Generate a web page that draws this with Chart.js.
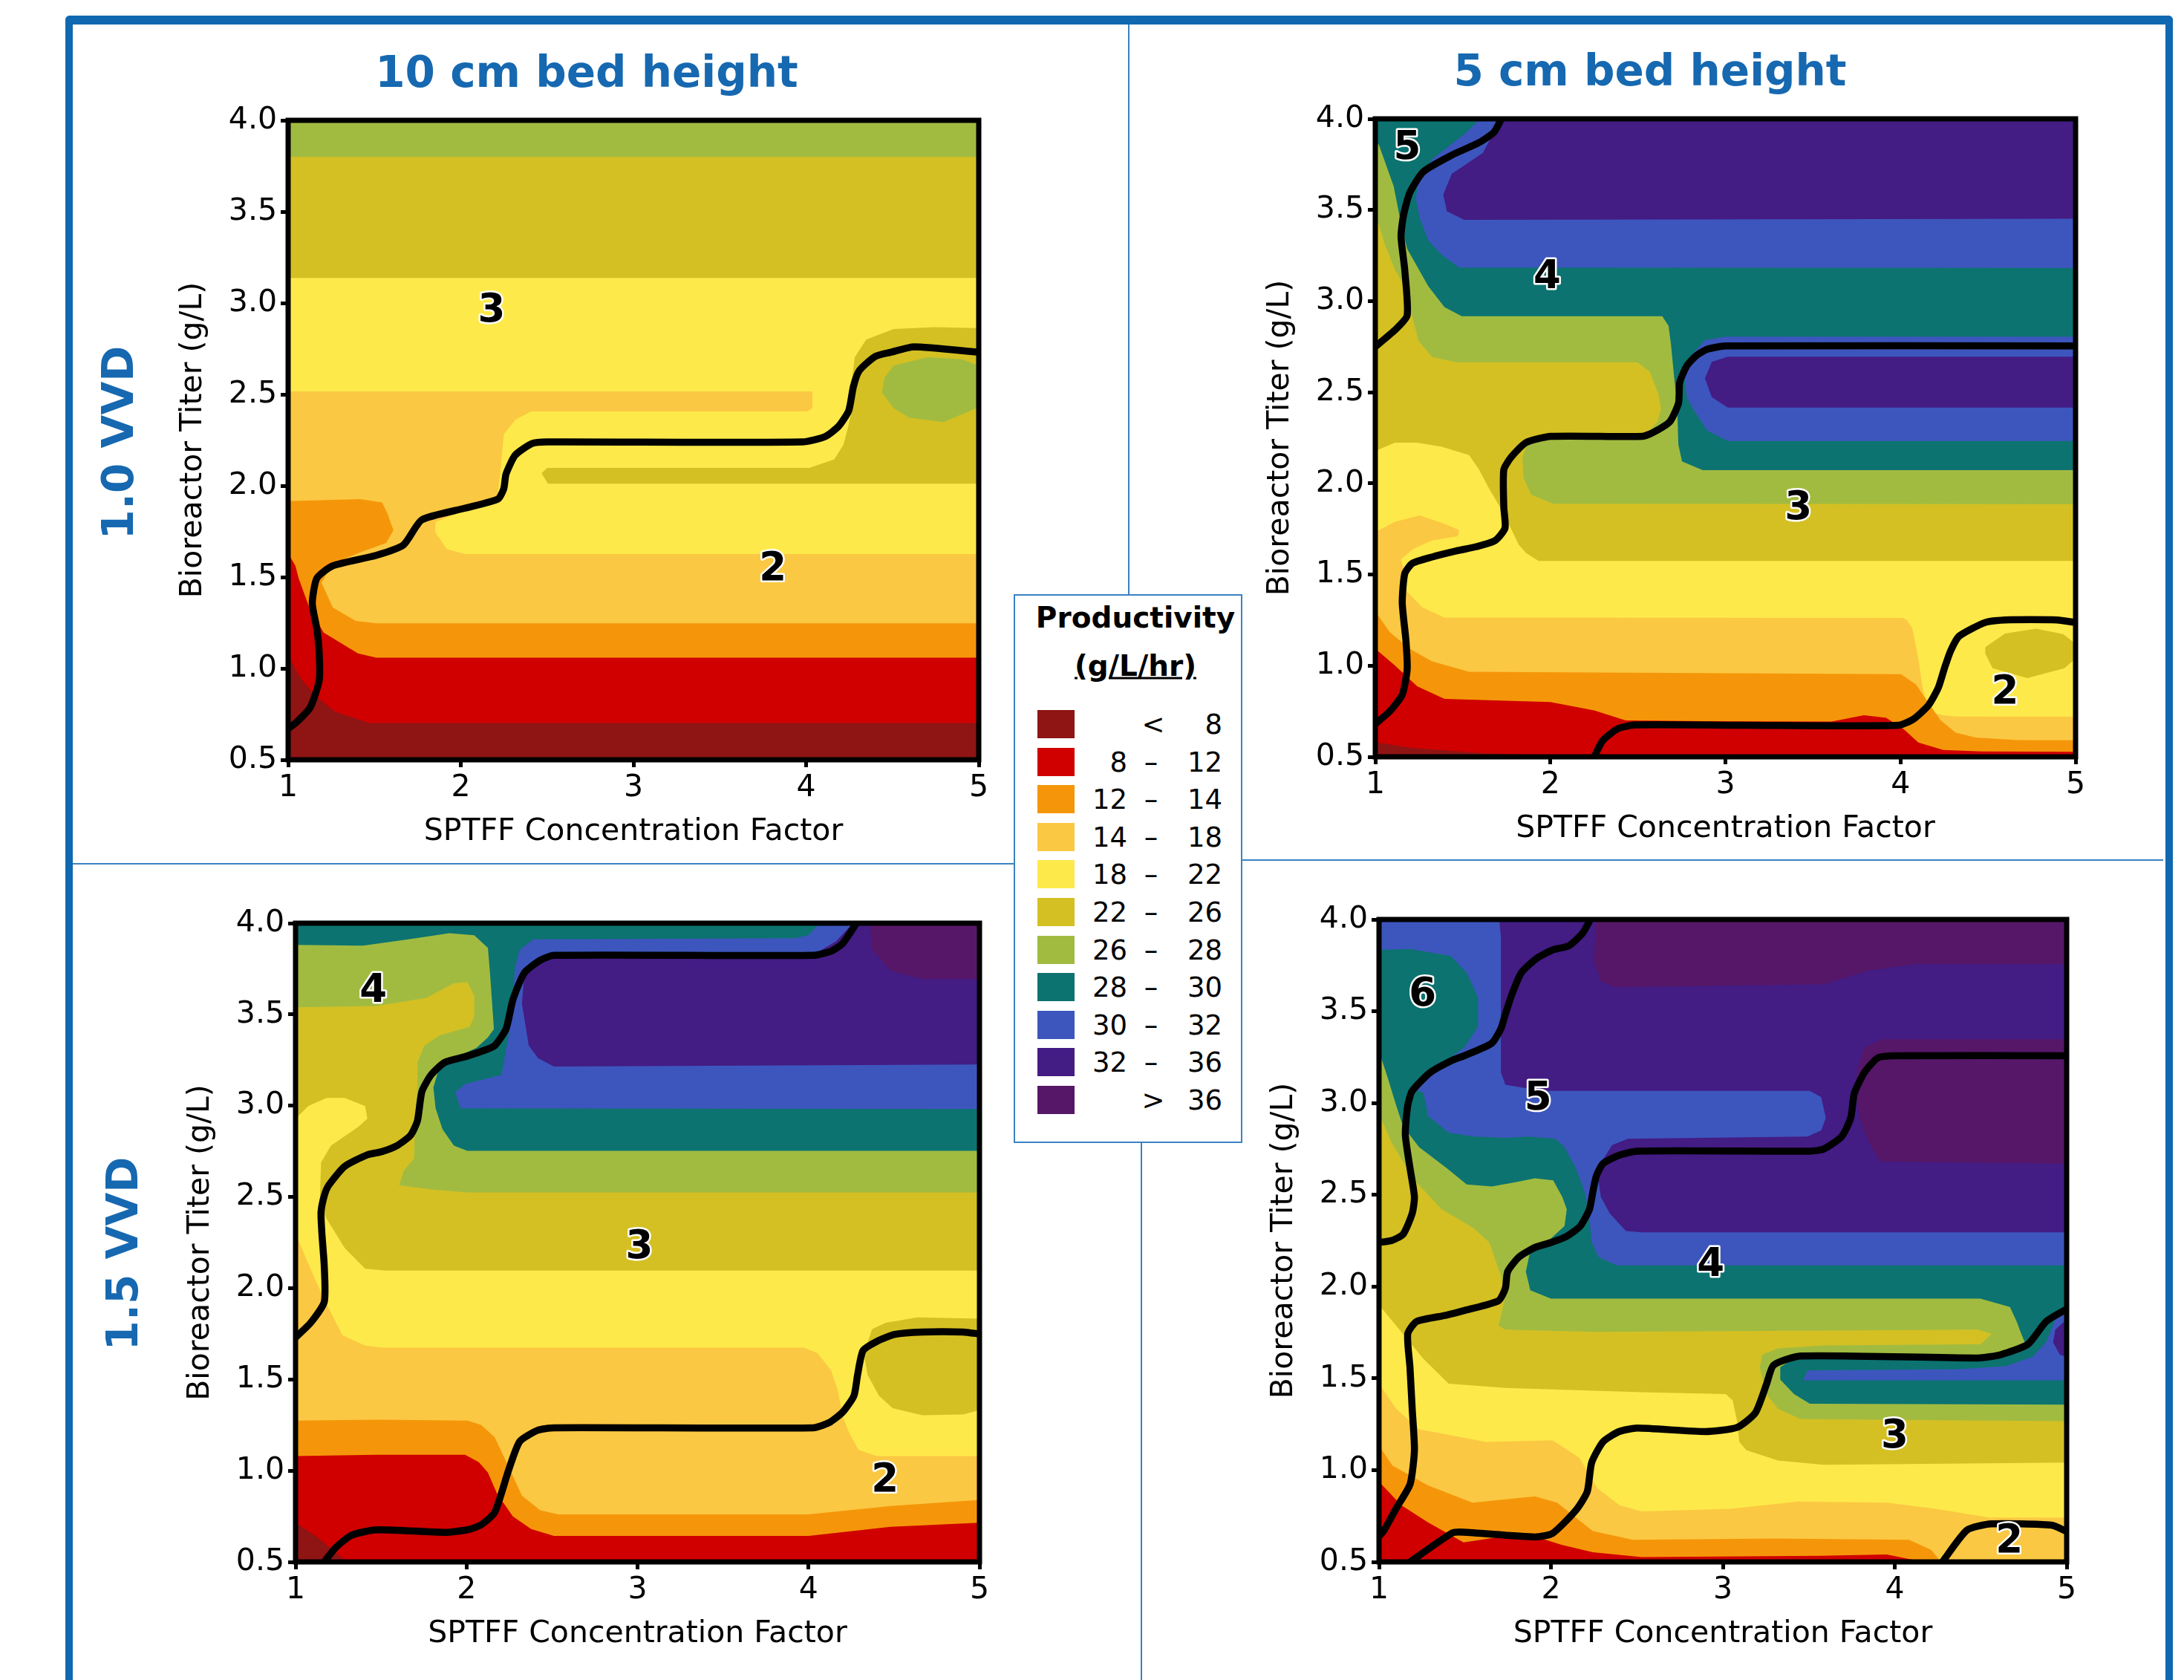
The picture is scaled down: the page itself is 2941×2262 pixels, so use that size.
<!DOCTYPE html>
<html>
<head>
<meta charset="utf-8">
<script src="https://cdn.jsdelivr.net/npm/chart.js@4.4.0/dist/chart.umd.min.js"></script>
<style>
  html, body { margin: 0; padding: 0; background: #fff; }
  #page { position: relative; width: 2941px; height: 2262px; overflow: hidden; font-family: "DejaVu Sans", Verdana, sans-serif; }
  .frame { position: absolute; left: 88px; top: 21px; width: 2818px; height: 2400px; border: solid #1068b0; border-width: 12px 10px 0 10px; border-radius: 6px 6px 0 0; }
  .rule { position: absolute; background: #3a82c3; }
  .panel { position: absolute; z-index: 1; }
  .txt { position: absolute; white-space: nowrap; line-height: 1; }
  .head { color: #1668b0; font-weight: bold; font-size: 58px; }
  .legend-box { position: absolute; left: 1365px; top: 800px; width: 308px; height: 739px; box-sizing: border-box; border: 2px solid #3a82c3; background: #fff; z-index: 2; }
  .leg { z-index: 3; color: #000; font-size: 37px; }
  .leg-title { z-index: 3; color: #000; font-size: 39px; font-weight: bold; }
  .swatch { position: absolute; width: 50px; height: 38px; z-index: 3; }
</style>
</head>
<body>
<div id="page">
  <div class="frame"></div>
  <div class="rule" style="left:1519px; top:33px; width:2px; height:767px;"></div>
  <div class="rule" style="left:1536px; top:1539px; width:2px; height:723px;"></div>
  <div class="rule" style="left:98px; top:1162px; width:1267px; height:2px;"></div>
  <div class="rule" style="left:1673px; top:1157px; width:1240px; height:2px;"></div>
  <div class="legend-box"></div>
  <canvas id="tl" class="panel"></canvas>
  <canvas id="tr" class="panel"></canvas>
  <canvas id="bl" class="panel"></canvas>
  <canvas id="br" class="panel"></canvas>
</div>
<script>
// productivity bands, lowest first
const BAND_COLORS = ['#8f1414', '#d00000', '#f5960a', '#fbc843', '#fee94a', '#d4c023', '#a1bb41', '#0c7370', '#3d56bd', '#431c84', '#561768'];
const BAND_LOW = ['', '8', '12', '14', '18', '22', '26', '28', '30', '32', ''];
const BAND_HIGH = ['8', '12', '14', '18', '22', '26', '28', '30', '32', '36', '36'];

const X_TICKS = [1, 2, 3, 4, 5];
const Y_TICKS = [0.5, 1.0, 1.5, 2.0, 2.5, 3.0, 3.5, 4.0];

// filled regions: [band, outline in (concentration factor, titer)], painted in order
const TL_LAYERS = [
  [6, [[1, 0.5], [5, 0.5], [5, 4], [1, 4]]],
  [5, [[1, 0.5], [5, 0.5], [5, 3.80], [1, 3.80]]],
  [4, [[1, 0.5], [5, 0.5], [5, 3.137], [1, 3.137]]],
  [5, [[5, 2.863], [4.744, 2.868], [4.506, 2.858], [4.348, 2.80], [4.282, 2.703], [4.263, 2.566], [4.274, 2.452], [4.242, 2.315], [4.216, 2.224], [4.163, 2.144], [4.018, 2.098], [2.50, 2.098], [2.468, 2.068], [2.505, 2.011], [5, 2.011]]],
  [6, [[4.453, 2.589], [4.506, 2.658], [4.704, 2.703], [4.902, 2.692], [5, 2.658], [5, 2.43], [4.797, 2.349], [4.599, 2.372], [4.506, 2.425], [4.440, 2.509]]],
  [3, [[1, 2.516], [4.036, 2.516], [4.036, 2.425], [4.005, 2.406], [2.407, 2.406], [2.315, 2.361], [2.249, 2.281], [2.228, 2.064], [2.209, 1.916], [2.024, 1.870], [1.853, 1.801], [1.853, 1.744], [1.919, 1.653], [2.024, 1.626], [5, 1.626], [5, 0.5], [1, 0.5]]],
  [2, [[1, 1.916], [1.417, 1.927], [1.544, 1.909], [1.576, 1.847], [1.610, 1.756], [1.568, 1.687], [1.417, 1.635], [1.259, 1.573], [1.193, 1.470], [1.259, 1.333], [1.391, 1.260], [1.510, 1.247], [5, 1.247], [5, 0.5], [1, 0.5]]],
  [1, [[1, 1.630], [1.042, 1.562], [1.061, 1.493], [1.127, 1.322], [1.206, 1.196], [1.404, 1.082], [1.510, 1.059], [5, 1.059], [5, 0.5], [1, 0.5]]],
  [0, [[1, 1.071], [1.074, 0.945], [1.153, 0.854], [1.272, 0.763], [1.470, 0.701], [5, 0.701], [5, 0.5], [1, 0.5]]]
];
const TL_CONTOURS = [
  [[1, 0.671], [1.048, 0.705], [1.127, 0.785], [1.180, 0.934], [1.180, 1.082], [1.166, 1.219], [1.140, 1.356], [1.166, 1.493], [1.259, 1.562], [1.510, 1.619], [1.668, 1.676], [1.774, 1.813], [2.024, 1.877], [2.215, 1.927], [2.249, 1.984], [2.262, 2.064], [2.315, 2.167], [2.413, 2.231], [2.50, 2.240], [3.978, 2.240], [4.110, 2.269], [4.189, 2.326], [4.247, 2.411], [4.274, 2.543], [4.308, 2.630], [4.401, 2.708], [4.493, 2.731], [4.625, 2.760], [5, 2.731]]
];
const TL_LABELS = [['3', 2.178, 2.954], ['2', 3.807, 1.539]];

const TR_LAYERS = [
  [9, [[1, 0.5], [5, 0.5], [5, 4], [1, 4]]],
  [8, [[1.741, 4], [1.678, 3.927], [1.614, 3.813], [1.437, 3.698], [1.388, 3.584], [1.409, 3.493], [1.508, 3.446], [5, 3.452], [5, 0.5], [1, 0.5], [1, 4]]],
  [7, [[1, 4], [1.600, 4], [1.508, 3.915], [1.324, 3.778], [1.246, 3.664], [1.232, 3.561], [1.253, 3.458], [1.303, 3.333], [1.380, 3.253], [1.479, 3.184], [5, 3.182], [5, 0.5], [1, 0.5]]],
  [6, [[1, 3.87], [1.020, 3.858], [1.105, 3.630], [1.147, 3.424], [1.182, 3.287], [1.303, 3.081], [1.395, 2.967], [1.494, 2.917], [2.639, 2.917], [2.675, 2.864], [2.689, 2.761], [2.710, 2.555], [2.724, 2.441], [2.731, 2.213], [2.752, 2.121], [2.870, 2.073], [5, 2.073], [5, 0.5], [1, 0.5]]],
  [5, [[1, 3.48], [1.055, 3.310], [1.112, 3.173], [1.154, 3.104], [1.204, 2.944], [1.246, 2.784], [1.324, 2.693], [1.465, 2.665], [2.498, 2.665], [2.568, 2.613], [2.618, 2.487], [2.632, 2.407], [2.611, 2.338], [2.568, 2.293], [2.526, 2.263], [1.989, 2.263], [1.876, 2.235], [1.840, 2.144], [1.847, 2.030], [1.890, 1.938], [2.017, 1.888], [5, 1.886], [5, 0.5], [1, 0.5]]],
  [8, [[5, 2.805], [3.0, 2.805], [2.883, 2.786], [2.805, 2.702], [2.766, 2.587], [2.779, 2.473], [2.818, 2.405], [2.896, 2.290], [3.013, 2.233], [5, 2.233]]],
  [9, [[5, 2.695], [3.013, 2.695], [2.922, 2.667], [2.883, 2.576], [2.922, 2.473], [3.013, 2.416], [5, 2.416]]],
  [4, [[1, 2.178], [1.112, 2.224], [1.239, 2.224], [1.380, 2.201], [1.536, 2.155], [1.593, 2.075], [1.649, 1.973], [1.706, 1.881], [1.762, 1.778], [1.819, 1.664], [1.861, 1.618], [1.932, 1.575], [5, 1.575], [5, 0.5], [1, 0.5]]],
  [3, [[1, 1.733], [1.112, 1.790], [1.253, 1.824], [1.395, 1.778], [1.479, 1.744], [1.472, 1.710], [1.324, 1.687], [1.218, 1.641], [1.147, 1.584], [1.168, 1.504], [1.175, 1.413], [1.267, 1.321], [1.395, 1.264], [4.013, 1.262], [4.032, 1.253], [4.066, 1.210], [4.085, 1.121], [4.104, 1.026], [4.118, 0.931], [4.132, 0.850], [4.155, 0.796], [4.188, 0.741], [4.245, 0.728], [4.316, 0.721], [5, 0.72], [5, 0.5], [1, 0.5]]],
  [5, [[4.484, 1.101], [4.597, 1.176], [4.774, 1.203], [4.929, 1.173], [5, 1.12], [5, 1.04], [4.936, 0.986], [4.724, 0.932], [4.526, 0.986], [4.484, 1.067]]],
  [2, [[1, 1.298], [1.083, 1.184], [1.197, 1.093], [1.324, 1.024], [1.536, 0.967], [4.003, 0.953], [4.088, 0.897], [4.159, 0.796], [4.229, 0.701], [4.314, 0.633], [4.427, 0.606], [4.668, 0.592], [5, 0.591], [5, 0.5], [1, 0.5]]],
  [1, [[1, 1.093], [1.112, 1.001], [1.239, 0.887], [1.395, 0.818], [2.0, 0.80], [2.25, 0.755], [2.43, 0.70], [3.0, 0.695], [3.607, 0.694], [3.791, 0.728], [3.918, 0.714], [4.017, 0.653], [4.102, 0.578], [4.244, 0.538], [4.46, 0.53], [5, 0.528], [5, 0.5], [1, 0.5]]],
  [0, [[1, 0.58], [1.2, 0.55], [1.6, 0.52], [2.3, 0.5], [1, 0.5]]]
];
const TR_CONTOURS = [
  [[1.72, 4.0], [1.678, 3.927], [1.593, 3.870], [1.437, 3.801], [1.274, 3.710], [1.197, 3.595], [1.161, 3.470], [1.147, 3.355], [1.168, 3.173], [1.182, 2.921], [1.112, 2.841], [1, 2.750]],
  [[1, 0.681], [1.083, 0.750], [1.154, 0.841], [1.182, 0.978], [1.175, 1.138], [1.154, 1.344], [1.168, 1.504], [1.211, 1.561], [1.324, 1.596], [1.465, 1.630], [1.578, 1.653], [1.685, 1.687], [1.741, 1.755], [1.734, 1.870], [1.734, 2.075], [1.776, 2.144], [1.861, 2.224], [2.003, 2.258], [2.526, 2.258], [2.590, 2.281], [2.682, 2.338], [2.732, 2.441], [2.739, 2.555], [2.781, 2.647], [2.837, 2.704], [2.896, 2.736], [3.0, 2.754], [5, 2.754]],
  [[2.250, 0.5], [2.300, 0.590], [2.385, 0.654], [2.484, 0.675], [3.112, 0.673], [3.989, 0.673], [4.074, 0.707], [4.159, 0.782], [4.215, 0.877], [4.251, 0.986], [4.286, 1.081], [4.335, 1.162], [4.484, 1.237], [4.597, 1.251], [4.894, 1.251], [5, 1.237]]
];
const TR_LABELS = [['5', 1.182, 3.835], ['4', 1.982, 3.127], ['3', 3.416, 1.861], ['2', 4.597, 0.850]];

const BL_LAYERS = [
  [9, [[1, 0.5], [5, 0.5], [5, 4], [1, 4]]],
  [10, [[4.359, 4], [4.372, 3.854], [4.479, 3.740], [4.665, 3.694], [5, 3.694], [5, 4]]],
  [8, [[4.26, 4.0], [4.160, 3.900], [4.027, 3.826], [2.511, 3.820], [2.404, 3.785], [2.338, 3.717], [2.324, 3.557], [2.364, 3.329], [2.418, 3.260], [2.511, 3.215], [5, 3.226], [5, 0.5], [1, 0.5], [1, 4]]],
  [7, [[1, 4], [4.066, 4], [4.0, 3.934], [3.92, 3.918], [2.391, 3.911], [2.311, 3.854], [2.285, 3.763], [2.271, 3.589], [2.257, 3.443], [2.231, 3.306], [2.205, 3.169], [2.059, 3.135], [1.992, 3.119], [1.934, 3.073], [1.965, 2.986], [5, 2.982], [5, 0.5], [1, 0.5]]],
  [6, [[1, 3.881], [1.394, 3.877], [1.660, 3.911], [1.899, 3.945], [2.045, 3.934], [2.125, 3.865], [2.138, 3.717], [2.16, 3.42], [2.125, 3.374], [2.059, 3.317], [1.952, 3.272], [1.846, 3.226], [1.806, 3.100], [1.819, 2.986], [1.859, 2.872], [1.926, 2.781], [2.005, 2.753], [5, 2.753], [5, 0.5], [1, 0.5]]],
  [5, [[1, 3.539], [1.473, 3.546], [1.766, 3.591], [1.926, 3.671], [2.005, 3.676], [2.045, 3.603], [2.045, 3.489], [2.019, 3.432], [1.846, 3.386], [1.753, 3.329], [1.713, 3.237], [1.713, 3.100], [1.699, 2.941], [1.694, 2.712], [1.633, 2.644], [1.606, 2.564], [1.793, 2.541], [2.005, 2.525], [5, 2.525], [5, 0.5], [1, 0.5]]],
  [4, [[1, 2.929], [1.074, 2.998], [1.181, 3.043], [1.287, 3.043], [1.407, 2.998], [1.420, 2.929], [1.367, 2.884], [1.207, 2.781], [1.149, 2.689], [1.141, 2.461], [1.181, 2.381], [1.287, 2.221], [1.407, 2.107], [1.527, 2.096], [5, 2.096], [5, 0.5], [1, 0.5]]],
  [3, [[1, 2.301], [1.061, 2.164], [1.114, 2.050], [1.181, 1.913], [1.274, 1.742], [1.407, 1.685], [1.513, 1.674], [3.973, 1.674], [4.053, 1.644], [4.133, 1.548], [4.173, 1.434], [4.199, 1.297], [4.239, 1.205], [4.293, 1.114], [4.399, 1.080], [5, 1.080], [5, 0.5], [1, 0.5]]],
  [5, [[4.372, 1.776], [4.452, 1.810], [4.638, 1.840], [5, 1.833], [5, 1.331], [4.904, 1.308], [4.665, 1.304], [4.492, 1.342], [4.412, 1.411], [4.346, 1.525], [4.324, 1.639]]],
  [2, [[1, 1.274], [1.473, 1.279], [2.005, 1.274], [2.085, 1.251], [2.165, 1.183], [2.245, 1.023], [2.324, 0.863], [2.431, 0.783], [2.537, 0.760], [4.0, 0.760], [4.479, 0.806], [5, 0.840], [5, 0.5], [1, 0.5]]],
  [1, [[1, 1.080], [1.473, 1.087], [1.992, 1.087], [2.072, 1.046], [2.125, 0.989], [2.178, 0.874], [2.271, 0.749], [2.378, 0.680], [2.511, 0.642], [4.0, 0.642], [4.479, 0.692], [5, 0.715], [5, 0.5], [1, 0.5]]],
  [0, [[1, 0.715], [1.128, 0.635], [1.287, 0.509], [1.3, 0.5], [1, 0.5]]]
];
const BL_CONTOURS = [
  [[1, 1.73], [1.088, 1.810], [1.168, 1.925], [1.168, 2.119], [1.154, 2.301], [1.149, 2.416], [1.168, 2.507], [1.194, 2.564], [1.287, 2.667], [1.420, 2.731], [1.500, 2.747], [1.593, 2.781], [1.673, 2.838], [1.713, 2.918], [1.739, 3.078], [1.793, 3.169], [1.872, 3.237], [2.005, 3.272], [2.112, 3.306], [2.165, 3.329], [2.231, 3.420], [2.271, 3.580], [2.338, 3.728], [2.431, 3.797], [2.511, 3.824], [4.027, 3.824], [4.133, 3.847], [4.199, 3.888], [4.266, 3.979], [4.28, 4.0]],
  [[1.168, 0.5], [1.234, 0.578], [1.327, 0.646], [1.473, 0.676], [1.872, 0.662], [2.005, 0.676], [2.085, 0.703], [2.165, 0.772], [2.245, 1.0], [2.311, 1.160], [2.418, 1.222], [2.511, 1.235], [4.027, 1.235], [4.120, 1.263], [4.199, 1.320], [4.266, 1.411], [4.287, 1.525], [4.319, 1.658], [4.399, 1.708], [4.505, 1.747], [4.665, 1.760], [4.904, 1.760], [5, 1.749]]
];
const BL_LABELS = [['4', 1.455, 3.626], ['3', 3.011, 2.221], ['2', 4.447, 0.943]];

const BR_LAYERS = [
  [9, [[1, 0.5], [5, 0.5], [5, 4], [1, 4]]],
  [10, [[2.264, 4], [2.250, 3.778], [2.290, 3.665], [2.369, 3.631], [3.586, 3.647], [3.850, 3.722], [4.114, 3.756], [5, 3.756], [5, 4]]],
  [10, [[3.784, 3.190], [3.824, 3.303], [3.929, 3.348], [5, 3.348], [5, 2.670], [3.916, 2.681], [3.850, 2.783], [3.797, 2.919], [3.771, 3.077]]],
  [8, [[1, 4], [1.70, 4], [1.709, 3.903], [1.709, 3.167], [1.735, 3.100], [1.946, 3.066], [3.506, 3.066], [3.572, 3.032], [3.599, 2.919], [3.572, 2.851], [3.493, 2.817], [2.449, 2.805], [2.356, 2.771], [2.303, 2.692], [2.277, 2.579], [2.290, 2.489], [2.343, 2.398], [2.436, 2.303], [2.528, 2.296], [5, 2.296], [5, 0.5], [1, 0.5]]],
  [7, [[1, 3.835], [1.034, 3.835], [1.180, 3.839], [1.418, 3.801], [1.510, 3.710], [1.576, 3.575], [1.576, 3.416], [1.497, 3.303], [1.431, 3.258], [1.286, 3.179], [1.206, 3.077], [1.259, 3.054], [1.286, 2.930], [1.405, 2.839], [1.550, 2.817], [1.735, 2.810], [1.867, 2.817], [2.026, 2.805], [2.079, 2.760], [2.145, 2.647], [2.198, 2.511], [2.224, 2.376], [2.237, 2.240], [2.277, 2.161], [2.383, 2.115], [5, 2.115], [5, 0.5], [1, 0.5]]],
  [6, [[1, 3.281], [1.048, 3.145], [1.100, 2.986], [1.140, 2.873], [1.233, 2.760], [1.392, 2.647], [1.510, 2.557], [1.656, 2.545], [1.788, 2.568], [1.907, 2.590], [2.013, 2.579], [2.066, 2.489], [2.092, 2.421], [2.079, 2.330], [2.0, 2.262], [1.880, 2.195], [1.854, 2.081], [1.880, 1.980], [2.0, 1.934], [4.498, 1.934], [4.670, 1.889], [4.709, 1.810], [4.736, 1.742], [4.762, 1.685], [4.617, 1.633], [4.484, 1.624], [3.453, 1.633], [3.334, 1.561], [3.334, 1.493], [3.414, 1.414], [3.506, 1.362], [5, 1.357], [5, 0.5], [1, 0.5]]],
  [5, [[1, 2.941], [1.074, 2.783], [1.206, 2.579], [1.365, 2.421], [1.550, 2.319], [1.642, 2.240], [1.709, 2.059], [1.735, 1.946], [1.695, 1.787], [1.735, 1.765], [2.264, 1.753], [4.484, 1.765], [4.564, 1.742], [4.498, 1.686], [3.586, 1.679], [3.321, 1.663], [3.228, 1.629], [3.215, 1.561], [3.25, 1.42], [3.321, 1.335], [3.453, 1.278], [5, 1.267], [5, 0.5], [1, 0.5]]],
  [8, [[3.467, 1.489], [3.493, 1.543], [4.379, 1.550], [4.643, 1.566], [4.802, 1.618], [4.881, 1.697], [4.934, 1.821], [5, 1.855], [5, 1.489]]],
  [9, [[5, 1.821], [4.934, 1.765], [4.921, 1.697], [4.960, 1.629], [5, 1.618]]],
  [4, [[1, 1.900], [1.100, 1.787], [1.259, 1.606], [1.405, 1.471], [1.735, 1.448], [2.528, 1.425], [3.017, 1.414], [3.057, 1.380], [3.083, 1.267], [3.096, 1.154], [3.136, 1.109], [3.321, 1.052], [3.586, 1.029], [5, 1.041], [5, 0.5], [1, 0.5]]],
  [3, [[1, 1.471], [1.100, 1.335], [1.233, 1.222], [1.402, 1.193], [1.622, 1.153], [2.010, 1.163], [2.166, 1.066], [2.269, 0.903], [2.399, 0.809], [2.528, 0.775], [3.047, 0.789], [3.435, 0.829], [3.953, 0.823], [4.238, 0.789], [4.549, 0.742], [5, 0.742], [5, 0.5], [1, 0.5]]],
  [2, [[1, 1.133], [1.078, 1.025], [1.285, 0.917], [1.544, 0.823], [1.907, 0.857], [2.036, 0.823], [2.244, 0.668], [2.477, 0.620], [3.306, 0.627], [4.083, 0.620], [4.212, 0.566], [4.264, 0.506], [4.27, 0.5], [1, 0.5]]],
  [1, [[1, 0.937], [1.130, 0.809], [1.285, 0.715], [1.492, 0.606], [1.725, 0.640], [1.881, 0.647], [2.062, 0.593], [2.244, 0.553], [2.528, 0.526], [3.565, 0.533], [3.953, 0.540], [4.135, 0.506], [4.2, 0.5], [1, 0.5]]]
];
const BR_CONTOURS = [
  [[2.23, 4.0], [2.184, 3.925], [2.105, 3.857], [2.013, 3.835], [1.920, 3.790], [1.828, 3.710], [1.775, 3.597], [1.735, 3.484], [1.709, 3.405], [1.656, 3.326], [1.497, 3.258], [1.431, 3.235], [1.299, 3.167], [1.193, 3.066], [1.167, 2.986], [1.153, 2.828], [1.180, 2.647], [1.206, 2.489], [1.193, 2.398], [1.140, 2.285], [1.074, 2.251], [1, 2.240]],
  [[1, 0.64], [1.026, 0.667], [1.100, 0.792], [1.181, 0.924], [1.206, 1.109], [1.193, 1.335], [1.180, 1.561], [1.167, 1.742], [1.219, 1.810], [1.391, 1.844], [1.510, 1.873], [1.695, 1.923], [1.735, 1.991], [1.748, 2.081], [1.814, 2.161], [1.907, 2.213], [2.0, 2.240], [2.092, 2.274], [2.171, 2.330], [2.224, 2.421], [2.243, 2.511], [2.264, 2.602], [2.303, 2.670], [2.396, 2.715], [2.502, 2.738], [3.506, 2.738], [3.586, 2.749], [3.691, 2.817], [3.744, 2.919], [3.765, 3.054], [3.824, 3.167], [3.903, 3.247], [4.009, 3.258], [5, 3.258]],
  [[5, 1.878], [4.881, 1.810], [4.775, 1.686], [4.617, 1.629], [4.484, 1.611], [3.453, 1.622], [3.295, 1.572], [3.255, 1.471], [3.189, 1.312], [3.083, 1.233], [2.898, 1.210], [2.502, 1.229], [2.396, 1.210], [2.303, 1.154], [2.237, 1.041], [2.211, 0.882], [2.145, 0.781], [2.010, 0.656], [1.907, 0.636], [1.492, 0.662], [1.427, 0.658], [1.181, 0.5]],
  [[4.277, 0.5], [4.420, 0.673], [4.562, 0.707], [4.912, 0.700], [5, 0.666]]
];
const BR_LABELS = [['6', 1.254, 3.586], ['5', 1.925, 3.020], ['4', 2.930, 2.115], ['3', 4.0, 1.180], ['2', 4.666, 0.607]];

Chart.defaults.font.family = '"DejaVu Sans", Verdana, sans-serif';
Chart.defaults.color = '#000';

// paints the productivity regions under the contour lines, then the frame and region numbers
const contourFill = {
  id: 'contourFill',
  beforeDatasetsDraw(chart, args, opts) {
    const { ctx, chartArea: a, scales: { x, y } } = chart;
    ctx.save();
    ctx.beginPath();
    ctx.rect(a.left, a.top, a.right - a.left, a.bottom - a.top);
    ctx.clip();
    opts.layers.forEach(([band, pts]) => {
      ctx.beginPath();
      pts.forEach(([vx, vy], i) => {
        const px = x.getPixelForValue(vx);
        const py = y.getPixelForValue(vy);
        if (i === 0) ctx.moveTo(px, py); else ctx.lineTo(px, py);
      });
      ctx.closePath();
      ctx.fillStyle = BAND_COLORS[band];
      ctx.fill();
    });
    ctx.restore();
  },
  afterDatasetsDraw(chart, args, opts) {
    const { ctx, chartArea: a, scales: { x, y } } = chart;
    ctx.save();
    ctx.lineWidth = 7;
    ctx.strokeStyle = '#000';
    ctx.strokeRect(a.left, a.top, a.right - a.left, a.bottom - a.top);
    ctx.font = 'bold 53px "DejaVu Sans", Verdana, sans-serif';
    ctx.textAlign = 'center';
    ctx.textBaseline = 'middle';
    ctx.lineJoin = 'round';
    opts.labels.forEach(([text, vx, vy]) => {
      const px = x.getPixelForValue(vx);
      const py = y.getPixelForValue(vy);
      ctx.lineWidth = 5;
      ctx.strokeStyle = '#fff';
      ctx.strokeText(text, px, py);
      ctx.fillStyle = '#000';
      ctx.fillText(text, px, py);
    });
    ctx.restore();
  }
};

function axis(ticksList, min, max, title, isX) {
  return {
    type: 'linear',
    min: min,
    max: max,
    afterBuildTicks: s => { s.ticks = ticksList.map(value => ({ value })); },
    afterFit: s => { if (isX) s.height = 150; else s.width = 200; },
    ticks: {
      font: { size: 41 },
      color: '#000',
      padding: isX ? 4 : 5,
      callback: v => isX ? String(v) : v.toFixed(1)
    },
    grid: { display: true, drawOnChartArea: false, drawTicks: true, tickLength: 10, tickWidth: 5, lineWidth: 5, color: '#000' },
    border: { display: false },
    title: {
      display: true,
      text: title,
      font: { size: 41 },
      color: '#000',
      padding: isX ? { top: 0, bottom: 28 } : { top: 48, bottom: 0 }
    }
  };
}

function makePanel(id, plotLeft, plotTop, plotW, plotH, layers, contours, labels) {
  const canvas = document.getElementById(id);
  canvas.width = plotW + 240;
  canvas.height = plotH + 180;
  canvas.style.left = (plotLeft - 200) + 'px';
  canvas.style.top = (plotTop - 30) + 'px';
  return new Chart(canvas, {
    type: 'scatter',
    data: {
      datasets: contours.map(line => ({
        data: line.map(([x, y]) => ({ x, y })),
        showLine: true,
        borderColor: '#000',
        borderWidth: 9.5,
        borderCapStyle: 'round',
        borderJoinStyle: 'round',
        pointRadius: 0,
        tension: 0.2,
        fill: false
      }))
    },
    options: {
      responsive: false,
      animation: false,
      devicePixelRatio: 1,
      layout: { padding: { top: 30, right: 40, left: 0, bottom: 0 } },
      plugins: {
        legend: { display: false },
        tooltip: { enabled: false },
        contourFill: { layers, labels }
      },
      scales: {
        x: axis(X_TICKS, 1, 5, 'SPTFF Concentration Factor', true),
        y: axis(Y_TICKS, 0.5, 4, 'Bioreactor Titer (g/L)', false)
      }
    },
    plugins: [contourFill]
  });
}

makePanel('tl', 388, 162, 930, 861, TL_LAYERS, TL_CONTOURS, TL_LABELS);
makePanel('tr', 1852, 160, 943, 859, TR_LAYERS, TR_CONTOURS, TR_LABELS);
makePanel('bl', 398, 1243, 921, 860, BL_LAYERS, BL_CONTOURS, BL_LABELS);
makePanel('br', 1857, 1238, 926, 865, BR_LAYERS, BR_CONTOURS, BR_LABELS);

// headings, row labels and the shared legend
const page = document.getElementById('page');
function addText(text, x, y, cls, align, extra) {
  const el = document.createElement('div');
  el.className = 'txt ' + cls;
  el.textContent = text;
  el.style.left = x + 'px';
  el.style.top = y + 'px';
  const shift = align === 'right' ? '-100%' : (align === 'left' ? '0' : '-50%');
  el.style.transform = 'translate(' + shift + ',-50%)' + (extra || '');
  page.appendChild(el);
  return el;
}

addText('10 cm bed height', 790, 97, 'head', 'center');
addText('5 cm bed height', 2222, 95, 'head', 'center');
addText('1.0 VVD', 159, 596, 'head', 'center', ' rotate(-90deg)');
addText('1.5 VVD', 165, 1688, 'head', 'center', ' rotate(-90deg)');

addText('Productivity', 1529, 831, 'leg-title', 'center');
addText('(g/L/hr)', 1529, 896, 'leg-title', 'center').style.textDecoration = 'underline';

BAND_COLORS.forEach((color, i) => {
  const cy = 975 + i * 50.6;
  const sw = document.createElement('div');
  sw.className = 'swatch';
  sw.style.left = '1397px';
  sw.style.top = (cy - 19) + 'px';
  sw.style.background = color;
  page.appendChild(sw);
  if (i === 0) {
    addText('<', 1553, cy, 'leg', 'center');
  } else if (i === BAND_COLORS.length - 1) {
    addText('>', 1553, cy, 'leg', 'center');
  } else {
    addText(BAND_LOW[i], 1518, cy, 'leg', 'right');
    addText('\u2013', 1550, cy, 'leg', 'center');
  }
  addText(BAND_HIGH[i], 1646, cy, 'leg', 'right');
});
</script>
</body>
</html>
